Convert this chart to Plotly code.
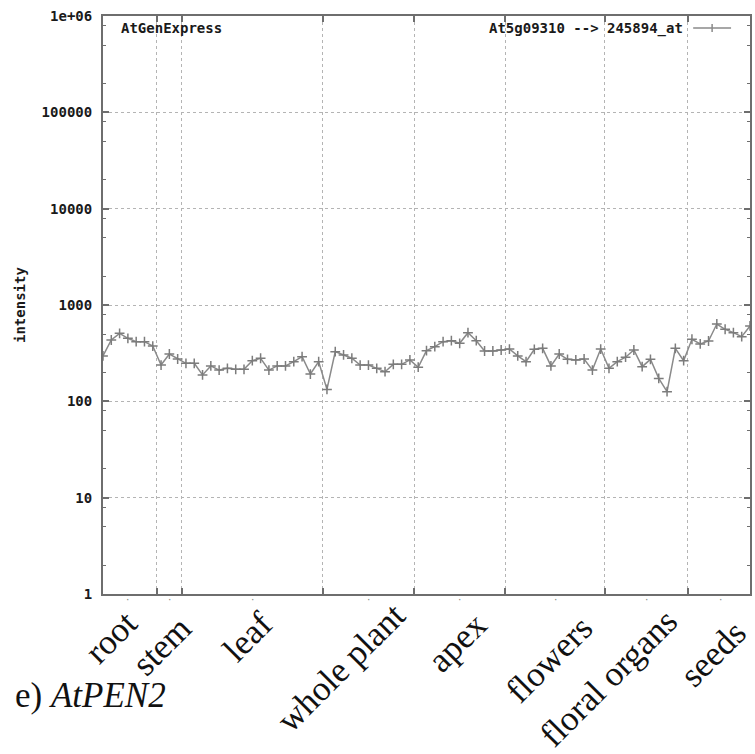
import plotly.graph_objects as go

# ---- data ----
sample_idx = list(range(1, 80))
intensity = [296, 433, 508, 451, 416, 416, 375, 238, 310, 275,
             248, 248, 188, 233, 211, 220, 215, 215, 264, 280,
             211, 233, 233, 258, 291, 192, 258, 133, 328, 303,
             280, 238, 238, 220, 203, 242, 242, 269, 226, 336,
             369, 416, 426, 400, 516, 426, 333, 333, 341, 349,
             296, 258, 347, 355, 233, 310, 273, 269, 275, 211,
             349, 220, 258, 287, 341, 229, 273, 173, 126, 355,
             264, 441, 394, 423, 635, 560, 516, 469, 606]
tissues = ["root", "stem", "leaf", "whole plant", "apex", "flowers", "floral organs", "seeds"]
tissue_first = [1, 8, 11, 28, 39, 50, 62, 72]
tissue_last = [7, 10, 27, 38, 49, 61, 71, 79]
y_tickvals = [1, 10, 100, 1000, 10000, 100000, 1000000]
y_ticktext = ["1", "10", "100", "1000", "10000", "100000", "1e+06"]
series_name = "At5g09310 --> 245894_at"
panel_title = "AtGenExpress"

# ---- derived ----
boundaries = [l + 0.5 for l in tissue_last[:-1]]
centers = [(a + b) / 2 for a, b in zip(tissue_first, tissue_last)]
minor_vals = [m * 10 ** e for e in range(0, 6) for m in (2, 5, 8)]

# label placement (pixel offsets, styling only)
lab_dx = [20, 33, 31, 48, 38, 48, 41, 36]
lab_dy = [-7, -12, -7, 1, -8, -12, -5, -16]

mono = "DejaVu Sans Mono"
ink = "#1a1a1a"
axis_col = "#6e6e6e"
grid_col = "#b4b4b4"
series_col = "#8a8a8a"

fig = go.Figure()
fig.add_trace(go.Scatter(
    x=sample_idx, y=intensity, mode="lines+markers", name=series_name,
    line=dict(color=series_col, width=1.5),
    marker=dict(symbol="cross-thin", size=7, line=dict(color="#7c7c7c", width=1.5)),
    showlegend=False,
))

W, H = 755, 754
L, R, T, B = 103, 3, 16, 160
pw, ph = W - L - R, H - T - B

fig.update_layout(
    width=W, height=H,
    margin=dict(l=L, r=R, t=T, b=B),
    paper_bgcolor="white", plot_bgcolor="white",
    font=dict(family=mono, size=14, color=ink),
)
fig.update_xaxes(
    range=[sample_idx[0], sample_idx[-1]],
    tickvals=boundaries, ticktext=[""] * len(boundaries),
    showgrid=True, gridcolor=grid_col, griddash="dot", gridwidth=1,
    ticks="inside", ticklen=6, tickcolor=axis_col, tickwidth=1.5,
    showline=True, linecolor=axis_col, linewidth=2, mirror="ticks",
    zeroline=False,
)
fig.update_yaxes(
    type="log", range=[0, 6],
    tickvals=y_tickvals, ticktext=y_ticktext,
    tickfont=dict(family=mono, size=14, color=ink, weight="bold"),
    showgrid=True, gridcolor=grid_col, griddash="dot", gridwidth=1,
    ticks="inside", ticklen=6, tickcolor=axis_col, tickwidth=1.5,
    ticklabelstandoff=6,
    minor=dict(tickvals=minor_vals, ticks="inside", ticklen=3,
               tickcolor=axis_col, tickwidth=1.2, showgrid=False),
    showline=True, linecolor=axis_col, linewidth=2, mirror="ticks",
    zeroline=False,
)

ann = []
# panel title inside top-left
ann.append(dict(text=panel_title, xref="paper", yref="paper", x=0, y=1,
                xanchor="left", yanchor="middle", xshift=16, yshift=-12,
                showarrow=False, font=dict(family=mono, size=14, color=ink, weight="bold")))
# legend text (gnuplot style: text then sample)
ann.append(dict(text=series_name, xref="paper", yref="paper", x=1, y=1,
                xanchor="right", yanchor="middle", xshift=-65, yshift=-12,
                showarrow=False, font=dict(family=mono, size=14, color=ink, weight="bold")))
# y-axis label
ann.append(dict(text="intensity", xref="paper", yref="paper", x=0, y=0.5,
                xanchor="center", yanchor="middle", xshift=-83, textangle=-90,
                showarrow=False, font=dict(family=mono, size=14, color=ink, weight="bold")))
# tiny tick marks under axis at group centres
for c in centers:
    ann.append(dict(text="·", xref="x", yref="paper", x=c, y=0,
                    xanchor="center", yanchor="middle", yshift=-6,
                    showarrow=False, font=dict(family=mono, size=9, color="#888888")))
# rotated tissue labels
for name, c, dx, dy in zip(tissues, centers, lab_dx, lab_dy):
    ann.append(dict(text=name, xref="x", yref="paper", x=c, y=0,
                    xanchor="right", yanchor="top", xshift=dx, yshift=dy,
                    textangle=-45, showarrow=False,
                    font=dict(family="Liberation Serif", size=35, color="#111111")))
# panel caption
ann.append(dict(text="e) <i>AtPEN2</i>", xref="paper", yref="paper", x=0, y=0,
                xanchor="left", yanchor="top", xshift=-(L - 13), yshift=-80,
                showarrow=False, font=dict(family="Liberation Serif", size=35, color="#111111")))
fig.update_layout(annotations=ann)

# legend sample (line with cross) in paper coords
ly = 1 - 12 / ph
x0, x1 = (695 - L) / pw, (733 - L) / pw
xm = (x0 + x1) / 2
fig.add_shape(type="line", xref="paper", yref="paper", x0=x0, x1=x1, y0=ly, y1=ly,
              line=dict(color=series_col, width=1.5))
fig.add_shape(type="line", xref="paper", yref="paper", x0=xm, x1=xm,
              y0=ly - 4 / ph, y1=ly + 4 / ph, line=dict(color=series_col, width=1.5))

fig.write_html("out.html")
